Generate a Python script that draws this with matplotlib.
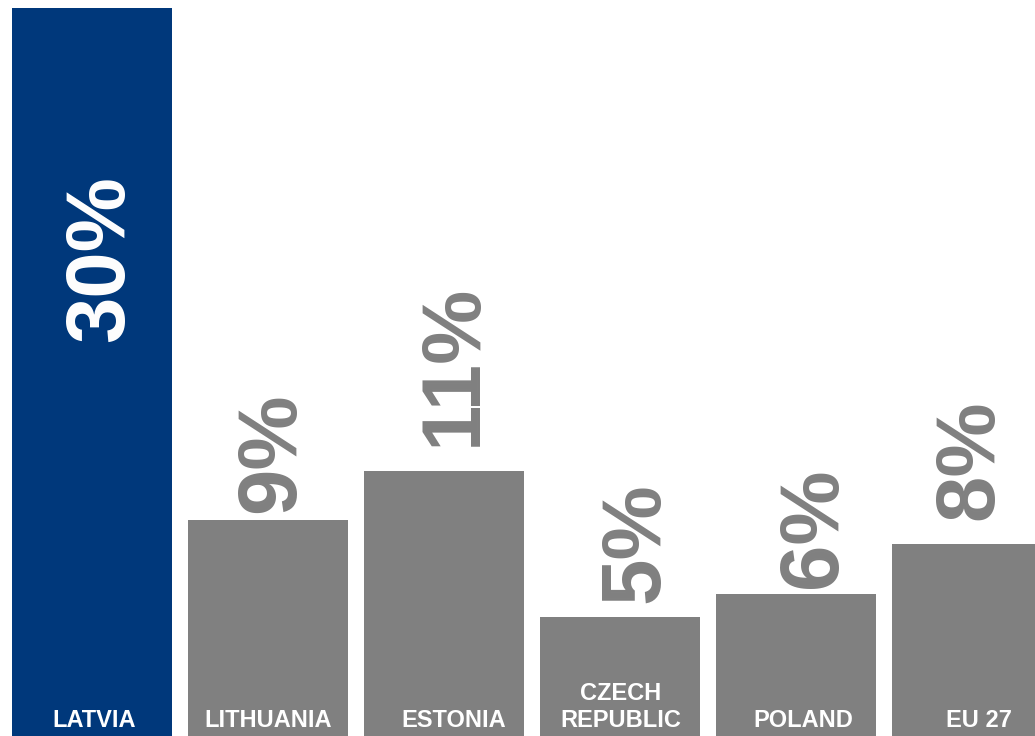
import numpy as np
import matplotlib
matplotlib.use("Agg")
import matplotlib.pyplot as plt

plt.rcParams['font.family'] = ['Liberation Sans', 'DejaVu Sans']

countries = ['LATVIA', 'LITHUANIA', 'ESTONIA', 'CZECH\nREPUBLIC', 'POLAND', 'EU 27']
values = [30, 8.9, 10.9, 4.9, 5.85, 7.9]
value_labels = ['30%', '9%', '11%', '5%', '6%', '8%']

# label nudges in pixels (dx, dy above the bar top)
value_offsets = [(0, 0), (4, 7), (10, 25), (16, 14), (18, 6), (-2, 24)]
name_offsets = [2.5, 0, 10, 1, 7, 7]

blue = '#00387B'
grey = '#808080'
colors = [blue] + [grey] * 5

fig = plt.figure(figsize=(10.35, 7.36), dpi=100)
ax = fig.add_axes([0, 0, 1, 1])

x = np.arange(len(countries))
ax.bar(x, values, width=0.91, color=colors, edgecolor='none')

# bar centres every 176 px starting at 92 px
ax.set_xlim(-92 / 176, (1035 - 92) / 176)
ax.set_ylim(0, 30 * 736 / 728)
ax.axis('off')

for i, (v, lab) in enumerate(zip(values, value_labels)):
    dx, dy = value_offsets[i]
    if i == 0:
        ax.text(i + 0.05, 19.67, lab, rotation=90, ha='center', va='center',
                color='white', fontsize=60, fontweight='bold')
    else:
        ax.annotate(lab, (i, v), xytext=(dx, dy), textcoords='offset pixels',
                    rotation=90, ha='center', va='bottom',
                    color=grey, fontsize=60, fontweight='bold')

for i, name in enumerate(countries):
    ax.annotate(name, (i, 0.37), xytext=(name_offsets[i], 0), textcoords='offset pixels',
                ha='center', va='baseline', color='white',
                fontsize=17, fontweight='bold', linespacing=1.2)

fig.savefig('out.png', dpi=100)
